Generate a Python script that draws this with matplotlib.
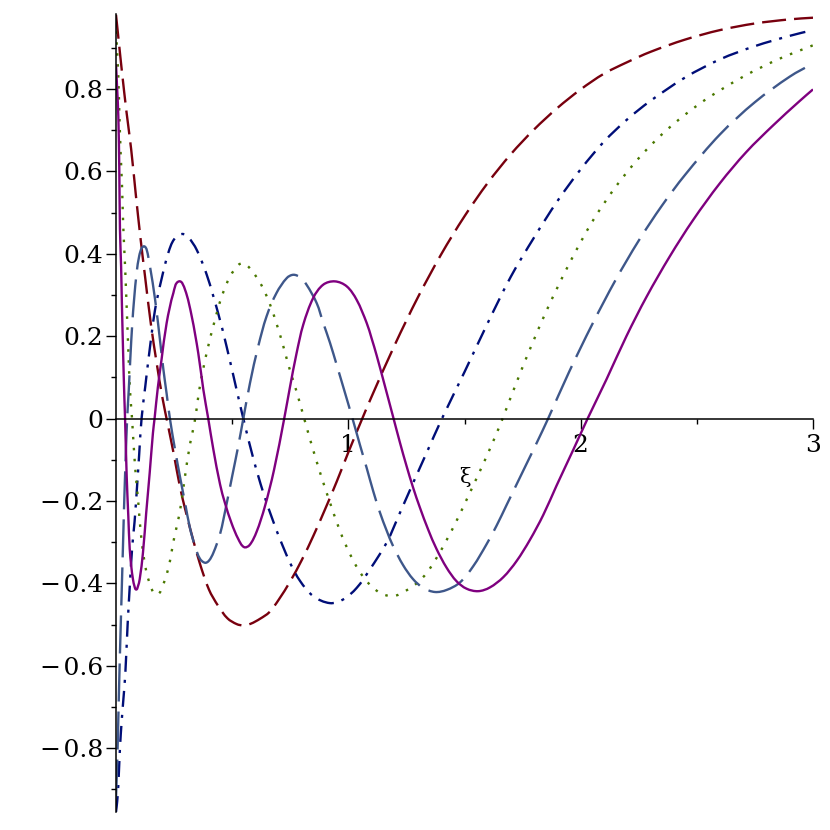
import matplotlib
matplotlib.use("Agg")
import numpy as np
import matplotlib.pyplot as plt
from matplotlib.ticker import FixedLocator, NullFormatter
from matplotlib.path import Path
from matplotlib.patches import PathPatch

plt.rcParams['lines.scale_dashes'] = False
plt.rcParams['font.family'] = ['DejaVu Serif', 'DejaVu Sans']

# ---- data (xi, value) ----
red_x = [0, 0.012, 0.025, 0.045, 0.065, 0.085, 0.105, 0.125, 0.15, 0.175, 0.2, 0.225,
         0.25, 0.275, 0.3, 0.33, 0.36, 0.4, 0.44, 0.48, 0.52, 0.548, 0.58, 0.62, 0.66,
         0.7, 0.75, 0.8, 0.85, 0.9, 0.95, 1.0, 1.06, 1.1, 1.2, 1.3, 1.4, 1.5, 1.6, 1.7,
         1.8, 1.9, 2.0, 2.1, 2.2, 2.3, 2.45, 2.6, 2.75, 2.9, 3.0]
red_y = [0.98, 0.915, 0.845, 0.745, 0.655, 0.545, 0.44, 0.345, 0.23, 0.135, 0.05, -0.02,
         -0.09, -0.165, -0.225, -0.29, -0.35, -0.415, -0.455, -0.485, -0.499, -0.502,
         -0.498, -0.486, -0.47, -0.44, -0.395, -0.343, -0.284, -0.22, -0.153, -0.082,
         0.0, 0.053, 0.179, 0.295, 0.399, 0.491, 0.572, 0.642, 0.702, 0.754, 0.799,
         0.837, 0.865, 0.89, 0.92, 0.943, 0.959, 0.969, 0.973]

navy_x = [0, 0.005, 0.01, 0.017, 0.025, 0.032, 0.04, 0.05, 0.06, 0.07, 0.08, 0.09, 0.1,
          0.11, 0.126, 0.14, 0.168, 0.197, 0.225, 0.25, 0.284, 0.311, 0.347, 0.39, 0.44,
          0.476, 0.519, 0.548, 0.591, 0.634, 0.677, 0.706, 0.749, 0.792, 0.849, 0.921,
          0.978, 1.036, 1.093, 1.165, 1.222, 1.279, 1.337, 1.403, 1.5, 1.6, 1.7, 1.8,
          1.9, 2.0, 2.1, 2.2, 2.3, 2.45, 2.6, 2.75, 2.9, 3.0]
navy_y = [-0.955, -0.93, -0.89, -0.80, -0.73, -0.68, -0.62, -0.50, -0.40, -0.31, -0.25,
          -0.17, -0.085, 0.0, 0.078, 0.145, 0.264, 0.341, 0.402, 0.435, 0.448, 0.440,
          0.41, 0.35, 0.255, 0.175, 0.07, 0.0, -0.097, -0.18, -0.25, -0.293, -0.35,
          -0.394, -0.431, -0.448, -0.439, -0.411, -0.366, -0.301, -0.229, -0.156, -0.083,
          0.0, 0.113, 0.232, 0.345, 0.44, 0.528, 0.605, 0.672, 0.726, 0.771, 0.828,
          0.872, 0.904, 0.929, 0.943]

green_x = [0, 0.005, 0.010, 0.014, 0.020, 0.026, 0.031, 0.039, 0.046, 0.053, 0.06, 0.069,
           0.082, 0.096, 0.109, 0.13, 0.159, 0.176, 0.192, 0.224, 0.252, 0.274, 0.295,
           0.317, 0.339, 0.361, 0.39, 0.426, 0.455, 0.491, 0.527, 0.545, 0.562, 0.598,
           0.634, 0.67, 0.713, 0.742, 0.777, 0.806, 0.835, 0.856, 0.885, 0.921, 0.957,
           0.993, 1.036, 1.079, 1.136, 1.193, 1.244, 1.294, 1.337, 1.38, 1.423, 1.466,
           1.509, 1.552, 1.595, 1.638, 1.664, 1.75, 1.85, 1.95, 2.05, 2.15, 2.25, 2.35,
           2.45, 2.55, 2.7, 2.85, 3.0]
green_y = [0.94, 0.89, 0.83, 0.749, 0.644, 0.563, 0.47, 0.37, 0.27, 0.167, 0.07, 0.0,
           -0.116, -0.204, -0.29, -0.37, -0.421, -0.427, -0.419, -0.366, -0.285, -0.229,
           -0.148, -0.067, -0.006, 0.078, 0.159, 0.24, 0.296, 0.345, 0.373, 0.377, 0.373,
           0.349, 0.315, 0.266, 0.19, 0.13, 0.066, 0.008, -0.05, -0.09, -0.143, -0.204,
           -0.262, -0.312, -0.36, -0.395, -0.423, -0.431, -0.419, -0.40, -0.375, -0.338,
           -0.295, -0.248, -0.197, -0.145, -0.092, -0.036, 0.0, 0.125, 0.258, 0.375,
           0.478, 0.562, 0.632, 0.69, 0.738, 0.779, 0.83, 0.872, 0.906]

steel_x = [0, 0.006, 0.012, 0.018, 0.024, 0.030, 0.036, 0.042, 0.048, 0.055, 0.062, 0.07,
           0.078, 0.089, 0.1, 0.111, 0.122, 0.132, 0.146, 0.168, 0.189, 0.204, 0.218,
           0.232, 0.254, 0.275, 0.297, 0.318, 0.34, 0.361, 0.383, 0.40, 0.419, 0.448,
           0.475, 0.5, 0.525, 0.548, 0.577, 0.612, 0.648, 0.691, 0.735, 0.763, 0.792,
           0.82, 0.864, 0.892, 0.921, 0.95, 0.978, 1.018, 1.05, 1.079, 1.107, 1.136,
           1.165, 1.193, 1.236, 1.279, 1.322, 1.373, 1.423, 1.48, 1.538, 1.595, 1.638,
           1.681, 1.724, 1.767, 1.81, 1.86, 1.95, 2.05, 2.15, 2.25, 2.35, 2.45, 2.6,
           2.75, 2.9, 3.0]
steel_y = [-0.92, -0.82, -0.68, -0.55, -0.43, -0.31, -0.19, -0.09, 0.0, 0.07, 0.15, 0.23,
           0.29, 0.355, 0.395, 0.414, 0.418, 0.41, 0.37, 0.29, 0.192, 0.119, 0.06, 0.0,
           -0.075, -0.14, -0.204, -0.265, -0.31, -0.34, -0.35, -0.345, -0.326, -0.28,
           -0.21, -0.14, -0.07, 0.0, 0.087, 0.175, 0.248, 0.305, 0.341, 0.349, 0.343,
           0.325, 0.28, 0.232, 0.184, 0.13, 0.077, 0.0, -0.064, -0.12, -0.176, -0.228,
           -0.272, -0.31, -0.356, -0.39, -0.411, -0.421, -0.416, -0.398, -0.358, -0.305,
           -0.26, -0.21, -0.16, -0.11, -0.06, 0.0, 0.113, 0.229, 0.336, 0.432, 0.517,
           0.592, 0.69, 0.768, 0.83, 0.862]

purple_x = [0, 0.005, 0.01, 0.014, 0.017, 0.022, 0.025, 0.031, 0.036, 0.039, 0.046, 0.053,
            0.059, 0.066, 0.073, 0.08, 0.087, 0.094, 0.102, 0.116, 0.13, 0.145, 0.159,
            0.166, 0.18, 0.196, 0.218, 0.247, 0.271, 0.297, 0.326, 0.354, 0.376, 0.397,
            0.419, 0.448, 0.469, 0.498, 0.526, 0.551, 0.575, 0.605, 0.64, 0.68, 0.724,
            0.749, 0.777, 0.806, 0.849, 0.892, 0.942, 0.993, 1.036, 1.079, 1.1, 1.122,
            1.157, 1.19, 1.222, 1.251, 1.279, 1.308, 1.344, 1.38, 1.423, 1.466, 1.509,
            1.559, 1.609, 1.667, 1.724, 1.781, 1.839, 1.896, 1.968, 2.03, 2.111, 2.197,
            2.284, 2.384, 2.484, 2.599, 2.713, 2.829, 2.943, 3.0]
purple_y = [0.86, 0.80, 0.733, 0.612, 0.46, 0.369, 0.288, 0.151, 0.05, 0.0, -0.14, -0.237,
            -0.316, -0.36, -0.39, -0.408, -0.415, -0.408, -0.39, -0.326, -0.229, -0.132,
            -0.035, 0.0, 0.075, 0.143, 0.232, 0.305, 0.333, 0.313, 0.248, 0.159, 0.07,
            0.0, -0.075, -0.16, -0.205, -0.255, -0.292, -0.312, -0.307, -0.275, -0.215,
            -0.125, 0.0, 0.077, 0.158, 0.228, 0.293, 0.325, 0.333, 0.321, 0.288, 0.232,
            0.195, 0.153, 0.08, 0.01, -0.058, -0.116, -0.168, -0.216, -0.27, -0.317,
            -0.362, -0.395, -0.413, -0.419, -0.41, -0.385, -0.346, -0.295, -0.234, -0.163,
            -0.076, 0.0, 0.095, 0.2, 0.296, 0.394, 0.482, 0.571, 0.647, 0.712, 0.771, 0.799]

x_major = [1, 2, 3]
x_major_labels = ["1", "2", "3"]
x_minor = [0.5, 1.5, 2.5]
y_major = [-0.8, -0.6, -0.4, -0.2, 0, 0.2, 0.4, 0.6, 0.8]
y_major_labels = ["\u2212\u200a0.8", "\u2212\u200a0.6", "\u2212\u200a0.4", "\u2212\u200a0.2",
                  "0", "0.2", "0.4", "0.6", "0.8"]
y_minor = [-0.9, -0.7, -0.5, -0.3, -0.1, 0.1, 0.3, 0.5, 0.7, 0.9]
x_label = "\u03be"

# ---- figure ----
fig = plt.figure(figsize=(8.3, 8.3), dpi=100)
ax = fig.add_axes([116/830, 1 - 812/830, (813 - 116)/830, (812 - 14)/830])
ax.set_xlim(0, 3)
ax.set_ylim(-0.955, 0.982)


def smooth_path(xs, ys):
    """Smooth (Bezier) path through the read points, for drawing only."""
    P = np.column_stack([xs, ys]).astype(float)
    S = np.array([232.4, 412.5])
    Q = P * S
    T = np.zeros_like(Q)
    T[1:-1] = Q[2:] - Q[:-2]
    T[0] = Q[1] - Q[0]
    T[-1] = Q[-1] - Q[-2]
    T /= np.linalg.norm(T, axis=1)[:, None]
    verts = [Q[0]]
    codes = [Path.MOVETO]
    for i in range(len(Q) - 1):
        d = np.linalg.norm(Q[i + 1] - Q[i])
        verts += [Q[i] + T[i] * d / 3, Q[i + 1] - T[i + 1] * d / 3, Q[i + 1]]
        codes += [Path.CURVE4] * 3
    return Path(np.array(verts) / S, codes)


lw = 1.7
series = [
    (red_x, red_y, "#78000E", (0, (17.3, 5.8))),
    (navy_x, navy_y, "#000E78", (0, (11.5, 5.8, 2.2, 5.8))),
    (green_x, green_y, "#4A7800", (0, (1.8, 6.1))),
    (steel_x, steel_y, "#3E578A", (0, (27.4, 7.2))),
    (purple_x, purple_y, "#7F007F", "solid"),
]
for xs, ys, col, ls in series:
    patch = PathPatch(smooth_path(xs, ys), fill=False, edgecolor=col, lw=lw,
                      linestyle=ls, joinstyle="round", capstyle="butt",
                      transform=ax.transData, zorder=2)
    ax.add_patch(patch)

for s in ["top", "right"]:
    ax.spines[s].set_visible(False)
ax.spines["left"].set_position(("data", 0))
ax.spines["bottom"].set_position(("data", 0))
ax.spines["left"].set_linewidth(1.1)
ax.spines["bottom"].set_linewidth(1.1)

ax.xaxis.set_major_locator(FixedLocator(x_major))
ax.set_xticklabels(x_major_labels)
ax.xaxis.set_minor_locator(FixedLocator(x_minor))
ax.xaxis.set_minor_formatter(NullFormatter())
ax.yaxis.set_major_locator(FixedLocator(y_major))
ax.set_yticklabels(y_major_labels)
ax.yaxis.set_minor_locator(FixedLocator(y_minor))
ax.yaxis.set_minor_formatter(NullFormatter())

ax.tick_params(axis="both", which="major", direction="out", length=7, width=1.0,
               labelsize=18)
ax.tick_params(axis="both", which="minor", direction="out", length=3.5, width=1.0)
ax.tick_params(axis="x", which="major", pad=4)
ax.tick_params(axis="y", which="major", pad=2)

ax.set_xlabel(x_label, fontsize=15)
ax.xaxis.set_label_coords(0.5, (812 - 467) / 798)

fig.savefig("out.png", dpi=100)
